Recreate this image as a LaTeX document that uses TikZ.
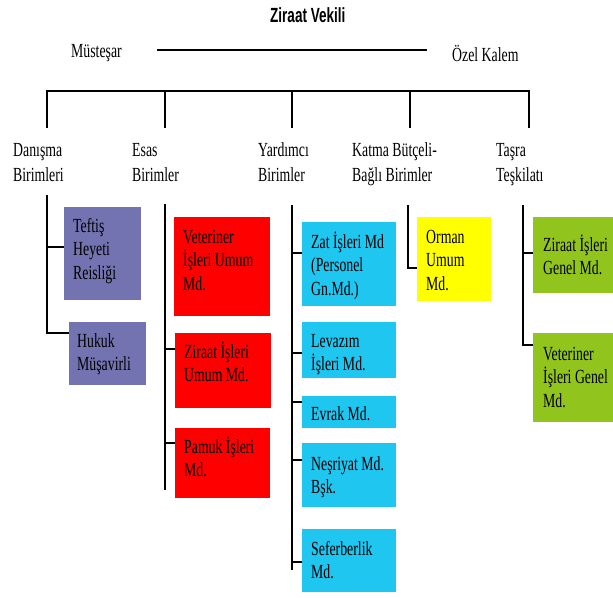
\documentclass[tikz,border=0pt]{standalone}
\usepackage{fontspec}
\setmainfont{Liberation Serif}[FakeStretch=0.69]
\newfontfamily\titlefont{Liberation Sans}[FakeStretch=0.66]
\definecolor{purp}{RGB}{115,115,178}
\definecolor{redb}{RGB}{255,0,0}
\definecolor{blueb}{RGB}{30,198,240}
\definecolor{yelb}{RGB}{255,255,0}
\definecolor{greenb}{RGB}{146,196,30}
\begin{document}
\begin{tikzpicture}[x=1pt,y=-1pt,
  line/.style={line width=2.8pt, line join=miter},
  box/.style={rectangle, inner sep=0pt, outer sep=0pt, anchor=north west},
  txt/.style={anchor=base west, inner sep=0pt, align=left, font=\fontsize{20}{23.5}\selectfont},
  head/.style={anchor=base west, inner sep=0pt, align=left, font=\fontsize{20}{24.5}\selectfont}]
\useasboundingbox[fill=white] (0,0) rectangle (613,597);

% title and top row
\node[anchor=base west, inner sep=0pt, font=\titlefont\bfseries\fontsize{20.5}{24}\selectfont] (vekili) at (270,22) {Ziraat Vekili};
\node[head] (mustesar) at (71,57) {Müsteşar};
\node[head] (ozel) at (452,61) {Özel Kalem};
\coordinate (mL) at (157,50);
\coordinate (mR) at (427,50);
\draw[line] (mL) -- (mR);

% main bar
\coordinate (d1) at (47,91);  \coordinate (e1) at (47,128);
\coordinate (d2) at (165,91); \coordinate (e2) at (165,128);
\coordinate (d3) at (292,91); \coordinate (e3) at (292,128);
\coordinate (d4) at (410,91); \coordinate (e4) at (410,128);
\coordinate (d5) at (529,91); \coordinate (e5) at (529,128);
\draw[line] (e1) -- (d1) -- (d5) -- (e5);
\draw[line] (d2) -- (e2);
\draw[line] (d3) -- (e3);
\draw[line] (d4) -- (e4);

% group headings (base = last line)
\node[head] (danisma) at (13,181) {Danışma\\Birimleri};
\node[head] (esas) at (132,181) {Esas\\Birimler};
\node[head] (yardimci) at (258,181) {Yardımcı\\Birimler};
\node[head] (katma) at (352,181) {Katma Bütçeli-\\Bağlı Birimler};
\node[head] (tasra) at (496,181) {Taşra\\Teşkilatı};

% boxes
\node[box, fill=purp, minimum width=77pt, minimum height=93pt] (teftis) at (64,207) {};
\node[box, fill=purp, minimum width=77pt, minimum height=63pt] (hukuk) at (69,322) {};
\node[box, fill=redb, minimum width=96pt, minimum height=99pt] (vet) at (174,217) {};
\node[box, fill=redb, minimum width=96pt, minimum height=75pt] (ziraatum) at (175,333) {};
\node[box, fill=redb, minimum width=95pt, minimum height=70pt] (pamuk) at (175,428) {};
\node[box, fill=blueb, minimum width=94pt, minimum height=84pt] (zat) at (302,222) {};
\node[box, fill=blueb, minimum width=94pt, minimum height=56pt] (levazim) at (302,322) {};
\node[box, fill=blueb, minimum width=94pt, minimum height=32pt] (evrak) at (302,396) {};
\node[box, fill=blueb, minimum width=94pt, minimum height=64pt] (nesriyat) at (302,443) {};
\node[box, fill=blueb, minimum width=94pt, minimum height=63pt] (seferberlik) at (302,529) {};
\node[box, fill=yelb, minimum width=74pt, minimum height=84pt] (orman) at (417,217) {};
\node[box, fill=greenb, minimum width=82pt, minimum height=76pt] (ziraatgen) at (533,217) {};
\node[box, fill=greenb, minimum width=82pt, minimum height=89pt] (vetgen) at (533,333) {};

% box texts (anchored at the baseline of the last line)
\node[txt] (teftisT) at ([shift={(9,72)}]teftis.north west) {Teftiş\\Heyeti\\Reisliği};
\node[txt] (hukukT) at ([shift={(8,48.5)}]hukuk.north west) {Hukuk\\Müşavirli};
\node[txt] (vetT) at ([shift={(9,73)}]vet.north west) {Veteriner\\İşleri Umum\\Md.};
\node[txt] (ziraatumT) at ([shift={(9,48.5)}]ziraatum.north west) {Ziraat İşleri\\Umum Md.};
\node[txt] (pamukT) at ([shift={(9,48.5)}]pamuk.north west) {Pamuk İşleri\\Md.};
\node[txt] (zatT) at ([shift={(9,73)}]zat.north west) {Zat İşleri Md\\(Personel\\Gn.Md.)};
\node[txt] (levazimT) at ([shift={(9,48.5)}]levazim.north west) {Levazım\\İşleri Md.};
\node[txt] (evrakT) at ([shift={(9,24)}]evrak.north west) {Evrak Md.};
\node[txt] (nesriyatT) at ([shift={(9,50.5)}]nesriyat.north west) {Neşriyat Md.\\Bşk.};
\node[txt] (seferberlikT) at ([shift={(9,49.5)}]seferberlik.north west) {Seferberlik\\Md.};
\node[txt] (ormanT) at ([shift={(9,73)}]orman.north west) {Orman\\Umum\\Md.};
\node[txt] (ziraatgenT) at ([shift={(10,57.5)}]ziraatgen.north west) {Ziraat İşleri\\Genel Md.};
\node[txt] (vetgenT) at ([shift={(10,74)}]vetgen.north west) {Veteriner\\İşleri Genel\\Md.};

% group connectors
\coordinate (g1) at (47,195);
\coordinate (g2) at (165,204);
\coordinate (g3) at (292,205);
\coordinate (g4) at (408,205);
\coordinate (g5) at (523,205);

\draw[line] (g1) -- (47,333) -- (hukuk.west |- 0,333);
\draw[line] (47,247) -- (teftis.west |- 0,247);

\draw[line] (g2) -- (165,490);
\draw[line] (165,349) -- (ziraatum.west |- 0,349);
\draw[line] (165,443) -- (pamuk.west |- 0,443);

\draw[line] (g3) -- (292,570);
\draw[line] (292,253) -- (zat.west |- 0,253);
\draw[line] (292,353) -- (levazim.west |- 0,353);
\draw[line] (292,402) -- (evrak.west |- 0,402);
\draw[line] (292,460) -- (nesriyat.west |- 0,460);
\draw[line] (292,562) -- (seferberlik.west |- 0,562);

\draw[line] (g4) -- (408,268) -- (orman.west |- 0,268);

\draw[line] (g5) -- (523,345) -- (vetgen.west |- 0,345);
\draw[line] (523,253) -- (ziraatgen.west |- 0,253);
\end{tikzpicture}
\end{document}
